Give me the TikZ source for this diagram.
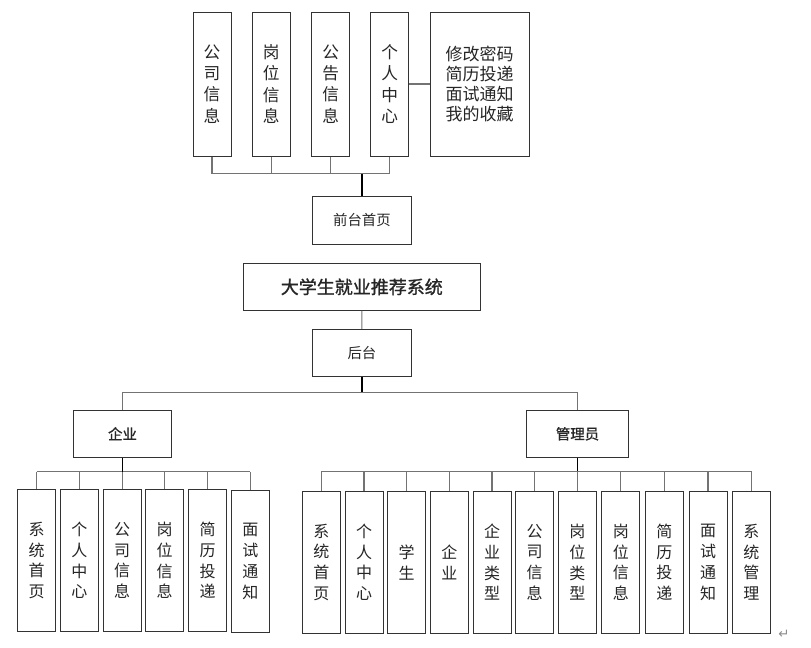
\documentclass[tikz,border=0pt]{standalone}
\usepackage{fontspec}
\setmainfont{Noto Sans CJK SC}
\newfontfamily\medfont[FakeBold=1.2]{Noto Sans CJK SC}
\newfontfamily\symfont{DejaVu Sans}
\begin{document}
\begin{tikzpicture}[x=0.75pt,y=-0.75pt,
  box/.style={draw=black!80, line width=0.75pt, fill=white, inner sep=0pt, text=black!85},
  vtop/.style={box, minimum width=28.5pt, minimum height=108pt, align=center, font=\fontsize{12.5}{15.9}\selectfont},
  vbot/.style={box, minimum width=28.5pt, minimum height=106.6pt, align=center, font=\fontsize{12}{15.6}\selectfont},
  hbox/.style={box, minimum height=35.5pt, font=\fontsize{10.8}{13}\selectfont},
  conn/.style={draw=black!55, line width=0.8pt},
  stub/.style={draw=black, line width=1.3pt}]
\useasboundingbox (0,0) rectangle (811,647);
% front end
\node[vtop] (t1) at (212,84) {公\\司\\信\\息};
\node[vtop] (t2) at (271.3,84) {岗\\位\\信\\息};
\node[vtop] (t3) at (330.7,84) {公\\告\\信\\息};
\node[vtop] (t4) at (389.7,84) {个\\人\\中\\心};
\node[box, minimum width=74pt, minimum height=108pt, align=center, font=\fontsize{12.75}{15.2}\selectfont] (t5) at (479.7,84) {修改密码\\简历投递\\面试通知\\我的收藏};
\node[hbox, minimum width=73.7pt] (qt) at (361.9,220.4) {前台首页};
\coordinate (tbus) at (361.9,173.7);
\draw[conn] (t4.east) -- (t5.west);
\foreach \n in {t1,t2,t3,t4} \draw[conn] (\n.south) -- (\n.south |- tbus);
\draw[conn] (t1.south |- tbus) -- (t4.south |- tbus);
\draw[stub] (tbus) -- (qt.north);
% title
\node[box, minimum width=177.75pt, minimum height=35.25pt, font=\medfont\fontsize{13.5}{16}\selectfont] (title) at (361.8,286.8) {大学生就业推荐系统};
\node[hbox, minimum width=73.7pt] (ht) at (361.9,353) {后台};
\draw[conn] (title.south) -- (ht.north);
% back end
\node[hbox, minimum width=73.8pt, font=\medfont\fontsize{10.8}{13}\selectfont] (qy) at (122.5,433.7) {企业};
\node[hbox, minimum width=76.8pt, font=\medfont\fontsize{10.8}{13}\selectfont] (gl) at (577.5,433.8) {管理员};
\coordinate (bbus) at (361.9,392.3);
\draw[stub] (ht.south) -- (bbus);
\draw[conn] (qy.north) |- (bbus);
\draw[conn] (gl.north) |- (bbus);
% enterprise children
\node[vbot] (e1) at (36.7,560.5) {系\\统\\首\\页};
\node[vbot] (e2) at (79.3,560.5) {个\\人\\中\\心};
\node[vbot] (e3) at (122.2,560.5) {公\\司\\信\\息};
\node[vbot] (e4) at (164.7,560.5) {岗\\位\\信\\息};
\node[vbot] (e5) at (207.5,560.5) {简\\历\\投\\递};
\node[vbot] (e6) at (250.3,561.5) {面\\试\\通\\知};
\coordinate (ebus) at (122.5,471.7);
\foreach \n in {e1,e2,e3,e4,e5,e6} \draw[conn] (\n.north) -- (\n.north |- ebus);
\draw[conn] (e1.north |- ebus) -- (e6.north |- ebus);
\draw[stub] (qy.south) -- (ebus);
% admin children
\node[vbot] (a1) at (321.3,562.3) {系\\统\\首\\页};
\node[vbot] (a2) at (364,562.3) {个\\人\\中\\心};
\node[vbot] (a3) at (406.7,562.3) {学\\生};
\node[vbot] (a4) at (449.3,562.3) {企\\业};
\node[vbot] (a5) at (492,562.3) {企\\业\\类\\型};
\node[vbot] (a6) at (534.7,562.3) {公\\司\\信\\息};
\node[vbot] (a7) at (577.3,562.3) {岗\\位\\类\\型};
\node[vbot] (a8) at (620.9,562.3) {岗\\位\\信\\息};
\node[vbot] (a9) at (664.3,562.3) {简\\历\\投\\递};
\node[vbot] (a10) at (708,562.3) {面\\试\\通\\知};
\node[vbot] (a11) at (751.3,562.3) {系\\统\\管\\理};
\coordinate (abus) at (577.5,471.3);
\foreach \n in {a1,a2,a3,a4,a5,a6,a7,a8,a9,a10,a11} \draw[conn] (\n.north) -- (\n.north |- abus);
\draw[conn] (a1.north |- abus) -- (a11.north |- abus);
\draw[stub] (gl.south) -- (abus);
% paragraph mark
\node[text=black!45, font=\symfont\fontsize{10}{12}\selectfont, inner sep=0pt] (pm) at (784,634) {↵};
\end{tikzpicture}
\end{document}
